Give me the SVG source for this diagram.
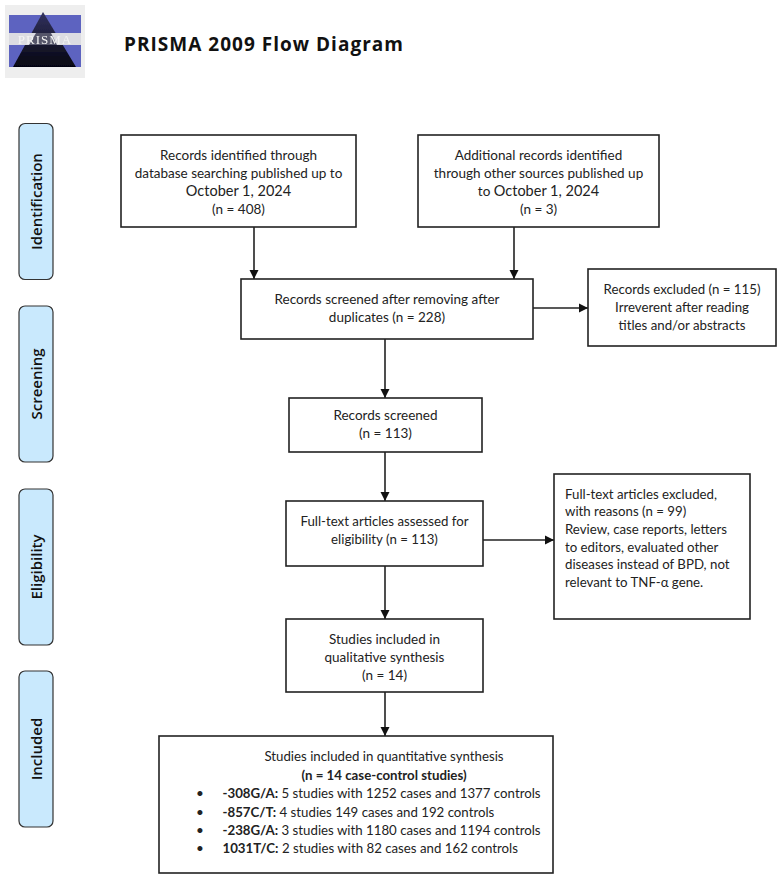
<svg xmlns="http://www.w3.org/2000/svg" width="777" height="876" viewBox="0 0 777 876">
<style>
text{font-family:"Lato","Carlito","Open Sans",sans-serif;font-size:13.5px;fill:#222;text-anchor:middle}
.box{fill:#fff;stroke:#222;stroke-width:1.6}
.side{fill:#c9e9fd;stroke:#333;stroke-width:1.2}
.sl{font-family:"Open Sans","Liberation Sans",sans-serif;font-size:15px;font-weight:600;fill:#111}
.l{text-anchor:start}
.b{font-weight:700}
.q{font-size:13.25px}
.con{fill:none;stroke:#222;stroke-width:1.6;marker-end:url(#a)}
</style>
<defs>
<marker id="a" markerUnits="userSpaceOnUse" markerWidth="10" markerHeight="10" refX="9" refY="5" orient="auto"><path d="M0,0.500L9,5L0,9.500z" fill="#111"/></marker>
<linearGradient id="tri" x1="0" y1="0" x2="0" y2="1"><stop offset="0" stop-color="#33335f"/><stop offset="1" stop-color="#050510"/></linearGradient>
<filter id="soft" x="-5%" y="-5%" width="110%" height="110%"><feGaussianBlur stdDeviation="0.6"/></filter>
</defs>
<rect width="777" height="876" fill="#fff"/>
<g id="logo">
<rect x="5" y="5" width="80" height="73" fill="#eeeeee"/>
<g filter="url(#soft)">
<rect x="9" y="15" width="72" height="19" fill="#5d63c0"/>
<rect x="9" y="45" width="72" height="22" fill="#5d63c0"/>
<path d="M43,12L76,67L13,67z" fill="url(#tri)"/>
<rect x="9" y="33" width="72" height="12" fill="#dcdce2"/>
<path d="M36,33H51L57,45H29z" fill="#55556a"/>
<text x="45" y="44" style="font-family:'Liberation Serif',serif;font-size:13px;fill:#f4f4f4;letter-spacing:1px">PRISMA</text>
</g>
</g>
<text id="title" x="124" y="51" class="l b" textLength="279" lengthAdjust="spacing" style="font-family:'Open Sans',sans-serif;font-size:19px;fill:#111">PRISMA 2009 Flow Diagram</text>
<g id="connectors">
<path class="con" d="M254,227V279"/>
<path class="con" d="M514,227V279"/>
<path class="con" d="M533,308H588"/>
<path class="con" d="M385,339V398"/>
<path class="con" d="M385,452V501"/>
<path class="con" d="M483,540H554"/>
<path class="con" d="M385,566V619"/>
<path class="con" d="M385,692V736"/>
</g>
<g id="phase-identification"><rect class="side" x="19" y="123.500" width="34" height="156" rx="6"/><text class="sl" transform="translate(42,201.500) rotate(-90)">Identification</text></g>
<g id="phase-screening"><rect class="side" x="19" y="306" width="34" height="156" rx="6"/><text class="sl" transform="translate(42,384) rotate(-90)">Screening</text></g>
<g id="phase-eligibility"><rect class="side" x="19" y="489" width="34" height="156" rx="6"/><text class="sl" transform="translate(42,567) rotate(-90)">Eligibility</text></g>
<g id="phase-included"><rect class="side" x="19" y="671" width="34" height="156" rx="6"/><text class="sl" transform="translate(42,749) rotate(-90)">Included</text></g>
<g id="n-database"><rect class="box" x="121" y="135" width="235" height="92"/>
<text x="238.500" y="160">Records identified through</text><text x="238.500" y="178">database searching published up to</text><text x="238.500" y="196" style="font-size:14.500px">October 1, 2024</text><text x="238.500" y="214">(n = 408)</text></g>
<g id="n-other"><rect class="box" x="418" y="135" width="241" height="92"/>
<text x="538.500" y="160">Additional records identified</text><text x="538.500" y="178">through other sources published up</text><text x="538.500" y="196">to <tspan style="font-size:14.500px">October 1, 2024</tspan></text><text x="538.500" y="214">(n = 3)</text></g>
<g id="n-dedup"><rect class="box" x="241" y="279" width="292" height="60"/>
<text x="387" y="304">Records screened after removing after</text><text x="387" y="322">duplicates (n = 228)</text></g>
<g id="n-excl1"><rect class="box" x="588" y="269" width="188" height="77"/>
<text class="q" x="682" y="294">Records excluded (n = 115)</text><text class="q" x="682" y="312">Irreverent after reading</text><text class="q" x="682" y="330">titles and/or abstracts</text></g>
<g id="n-screened"><rect class="box" x="289" y="398" width="193" height="54"/>
<text x="385.500" y="420">Records screened</text><text x="385.500" y="438">(n = 113)</text></g>
<g id="n-fulltext"><rect class="box" x="286" y="501" width="197" height="65"/>
<text class="q" x="384.500" y="526">Full-text articles assessed for</text><text class="q" x="384.500" y="544">eligibility (n = 113)</text></g>
<g id="n-excl2"><rect class="box" x="554" y="474" width="196" height="145"/>
<text class="l q" x="565" y="499">Full-text articles excluded,</text><text class="l q" x="565" y="516">with reasons (n = 99)</text><text class="l q" x="565" y="534">Review, case reports, letters</text><text class="l q" x="565" y="552">to editors, evaluated other</text><text class="l q" x="565" y="569">diseases instead of BPD, not</text><text class="l q" x="565" y="587">relevant to TNF-α gene.</text></g>
<g id="n-qual"><rect class="box" x="286" y="619" width="197" height="73"/>
<text x="384.500" y="644">Studies included in</text><text x="384.500" y="662">qualitative synthesis</text><text x="384.500" y="680">(n = 14)</text></g>
<g id="n-quant"><rect class="box" x="159" y="736" width="394" height="137"/>
<text class="q" x="384" y="761">Studies included in quantitative synthesis</text>
<text class="q b" x="384" y="780">(n = 14 case-control studies)</text>
<text x="200" y="798">•</text><text class="l q" x="222.500" y="798"><tspan class="b">-308G/A:</tspan> 5 studies with 1252 cases and 1377 controls</text>
<text x="200" y="817">•</text><text class="l q" x="222.500" y="817"><tspan class="b">-857C/T:</tspan> 4 studies 149 cases and 192 controls</text>
<text x="200" y="835">•</text><text class="l q" x="222.500" y="835"><tspan class="b">-238G/A:</tspan> 3 studies with 1180 cases and 1194 controls</text>
<text x="200" y="853">•</text><text class="l q" x="222.500" y="853"><tspan class="b">1031T/C:</tspan> 2 studies with 82 cases and 162 controls</text></g>
</svg>
